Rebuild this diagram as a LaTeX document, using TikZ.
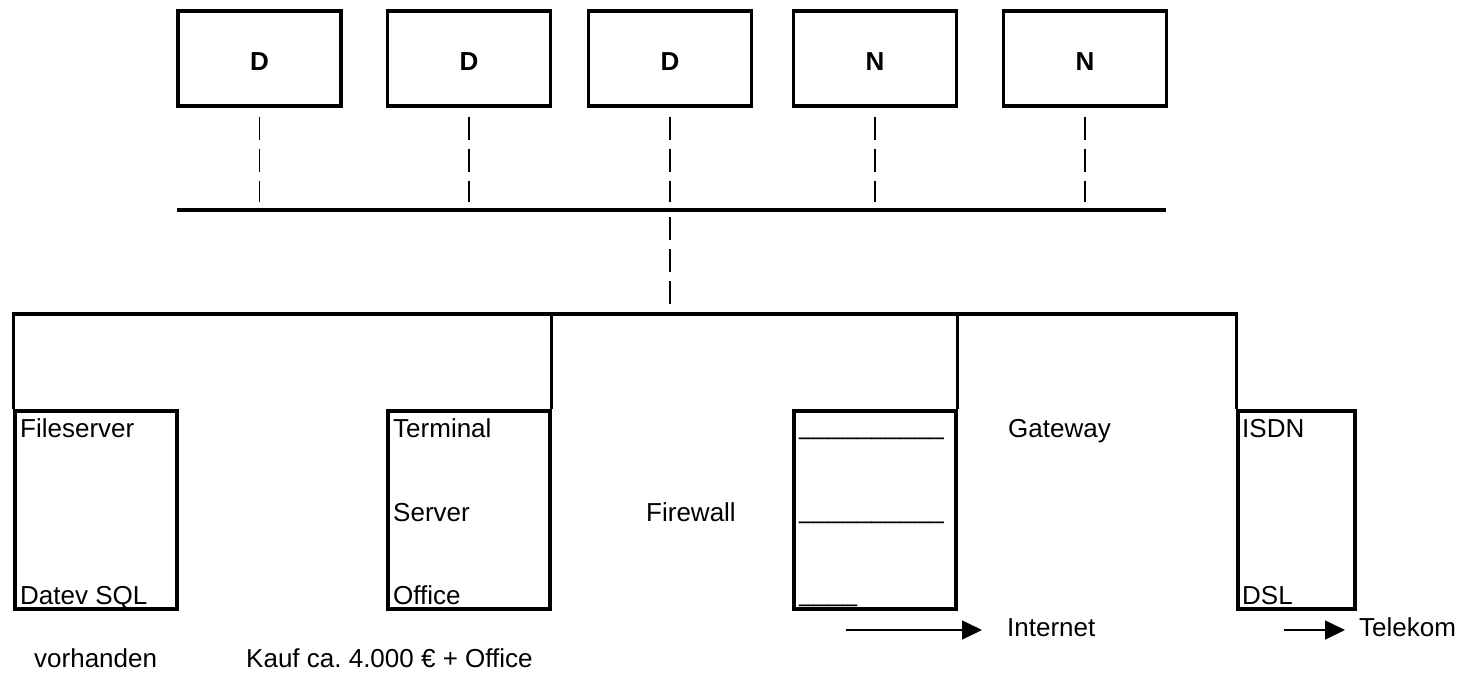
\documentclass[tikz,border=0pt]{standalone}
\usepackage{fontspec}
\setmainfont{Liberation Sans}
\usetikzlibrary{arrows.meta}
\frenchspacing
\begin{document}
\begin{tikzpicture}[x=1pt,y=-1pt,
  topbox/.style={draw,line width=3.2pt,minimum width=163pt,minimum height=95pt,inner sep=0pt,
    text height=24pt,font=\fontsize{26}{30}\selectfont\bfseries},
  lowbox/.style={draw,line width=3.2pt,minimum height=198pt,inner sep=0pt},
  wire/.style={line width=3.2pt},
  busline/.style={line width=3.6pt},
  pipe/.style={line width=1.8pt,dash pattern=on 23pt off 9pt},
  lbl/.style={inner sep=0pt,anchor=base west,font=\fontsize{26}{30}\selectfont},
  arr/.style={line width=1.6pt,-{Triangle[length=20pt,width=19pt]}}
]
\useasboundingbox (0,0) rectangle (1466,672);
% top boxes
\node[topbox] (d1) at (259.5,58.5) {D};
\node[topbox] (d2) at (469,58.5) {D};
\node[topbox] (d3) at (670,58.5) {D};
\node[topbox] (n1) at (875,58.5) {N};
\node[topbox] (n2) at (1085,58.5) {N};
% top bus
\coordinate (tbL) at (177,210);
\coordinate (tbR) at (1166,210);
\draw[busline] (tbL) -- (tbR);
\foreach \b in {d1,d2,d3,n1,n2}
  \draw[pipe,shorten <=9pt,shorten >=8pt] (\b.south) -- (\b.south |- tbL);
% lower boxes
\node[lowbox,minimum width=162pt] (fs) at (96,510) {};
\node[lowbox,minimum width=162pt] (ts) at (469,510) {};
\node[lowbox,minimum width=162pt] (fw) at (875,510) {};
\node[lowbox,minimum width=117pt] (isdn) at (1296.5,510) {};
% lower bus
\coordinate (lb) at (670,314);
\draw[pipe,shorten <=7pt,shorten >=10pt] (d3.south |- tbL) -- (lb);
\draw[wire] (fs.north west) -- (fs.north west |- lb) -- (isdn.north west |- lb) -- (isdn.north west);
\draw[wire] (ts.north east) -- (ts.north east |- lb);
\draw[wire] (fw.north east) -- (fw.north east |- lb);
% texts
\node[lbl] (t1) at (20,437) {Fileserver};
\node[lbl] (t2) at (20,604) {Datev SQL};
\node[lbl] (t3) at (34,667) {vorhanden};
\node[lbl] (t4) at (393,437) {Terminal};
\node[lbl] (t5) at (393,521) {Server};
\node[lbl] (t6) at (393,604) {Office};
\node[lbl] (t7) at (246,667) {Kauf ca. 4.000 € + Office};
\node[lbl] (t8) at (646,521) {Firewall};
\node[lbl] (u1) at (799,434) {\_\_\_\_\_\_\_\_\_\_};
\node[lbl] (u2) at (799,518) {\_\_\_\_\_\_\_\_\_\_};
\node[lbl] (u3) at (799,601) {\_\_\_\_};
\node[lbl] (t9) at (1008,437) {Gateway};
\node[lbl] (t10) at (1242,437) {ISDN};
\node[lbl] (t11) at (1242,604) {DSL};
\node[lbl] (inet) at (1007,636) {Internet};
\node[lbl] (tel) at (1359,636) {Telekom};
% arrows
\coordinate (ia) at (846,630);
\coordinate (ta) at (1284,630);
\draw[arr] (ia) -- ([xshift=-25pt]ia -| inet.west);
\draw[arr] (ta) -- ([xshift=-14pt]ta -| tel.west);
\end{tikzpicture}
\end{document}
